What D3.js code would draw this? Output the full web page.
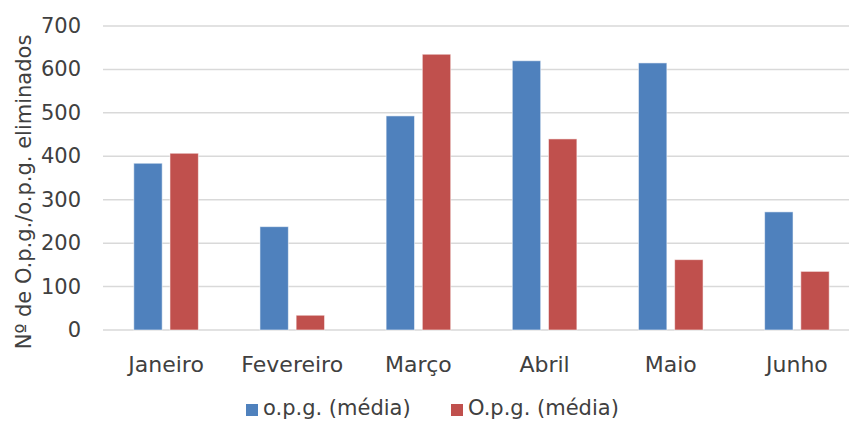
<!DOCTYPE html>
<html>
<head>
<meta charset="utf-8">
<script src="https://cdn.jsdelivr.net/npm/d3@7"></script>
<style>
  html, body { margin: 0; padding: 0; background: #fff; }
  svg { display: block; }
  text { font-family: "DejaVu Sans", sans-serif; fill: #404040; }
</style>
</head>
<body>
<svg id="chart" width="849" height="421"></svg>
<script>
const categories = ["Janeiro", "Fevereiro", "Março", "Abril", "Maio", "Junho"];
const seriesNames = ["o.p.g. (média)", "O.p.g. (média)"];
const seriesA = [384, 238, 493, 620, 615, 272];
const seriesB = [407, 34, 635, 440, 162, 135];
const yTicks = [0, 100, 200, 300, 400, 500, 600, 700];
const yTitle = "Nº de O.p.g./o.p.g. eliminados";
const colors = ["#4F81BD", "#C0504D"];

const svg = d3.select("#chart");
const fontSize = 21;

const y = d3.scaleLinear().domain([0, 700]).range([330, 26]);
const x0 = d3.scaleBand().domain(categories).range([103, 860]).padding(0);
const bw = x0.bandwidth();
const cluster = 64.6;
const x1 = d3.scaleBand().domain(seriesNames)
  .range([bw / 2 - cluster / 2, bw / 2 + cluster / 2]).paddingInner(0.215).paddingOuter(0);

// gridlines
svg.append("g").selectAll("line").data(yTicks).join("line")
  .attr("x1", 103).attr("x2", 849)
  .attr("y1", d => y(d)).attr("y2", d => y(d))
  .attr("stroke", "#D9D9D9").attr("stroke-width", 1.5);

// y tick labels
svg.append("g").selectAll("text").data(yTicks).join("text")
  .attr("x", 81).attr("y", d => y(d))
  .attr("text-anchor", "end").attr("dominant-baseline", "central")
  .style("font-size", fontSize + "px")
  .text(d => d);

// bars
const data = categories.map((c, i) => ({ cat: c, vals: [seriesA[i], seriesB[i]] }));
const groups = svg.append("g").selectAll("g").data(data).join("g")
  .attr("transform", d => `translate(${x0(d.cat)},0)`);
groups.selectAll("rect").data(d => d.vals.map((v, j) => ({ v, s: seriesNames[j], j })))
  .join("rect")
  .attr("x", d => x1(d.s))
  .attr("width", x1.bandwidth())
  .attr("y", d => y(d.v))
  .attr("height", d => y(0) - y(d.v))
  .attr("fill", d => colors[d.j])
  .attr("stroke", "rgba(255,255,255,0.55)")
  .attr("stroke-width", 1);

// x labels
svg.append("g").selectAll("text").data(categories).join("text")
  .attr("x", d => x0(d) + bw / 2).attr("y", 372)
  .attr("text-anchor", "middle")
  .style("font-size", "22px")
  .text(d => d);

// y title
svg.append("text")
  .attr("transform", "translate(31,192) rotate(-90)")
  .attr("text-anchor", "middle")
  .style("font-size", fontSize + "px")
  .text(yTitle);

// legend
const legendItems = [{ x: 246, tx: 263 }, { x: 451, tx: 468 }];
legendItems.forEach((p, i) => {
  svg.append("rect").attr("x", p.x).attr("y", 404).attr("width", 12).attr("height", 12)
    .attr("fill", colors[i]);
  svg.append("text").attr("x", p.tx).attr("y", 415)
    .style("font-size", "21px")
    .text(seriesNames[i]);
});
</script>
</body>
</html>
